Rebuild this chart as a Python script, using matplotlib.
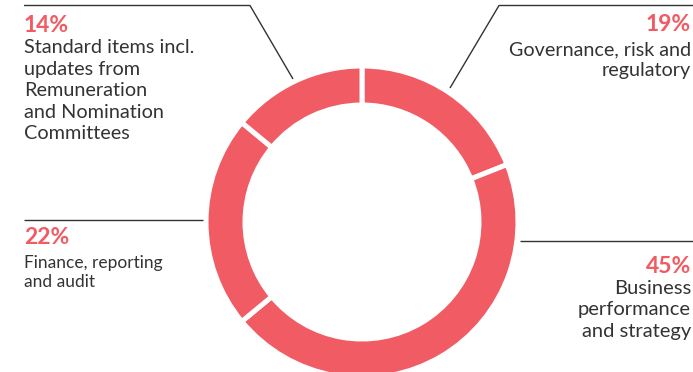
import matplotlib

matplotlib.use("Agg")

import matplotlib.pyplot as plt

# share of board time, clockwise from 12 o'clock
topics = [
    "Governance, risk and\nregulatory",
    "Business\nperformance\nand strategy",
    "Finance, reporting\nand audit",
    "Standard items incl.\nupdates from\nRemuneration\nand Nomination\nCommittees",
]
shares = [19, 45, 22, 14]
pct_labels = ["19%", "45%", "22%", "14%"]

RED = "#F15B63"
INK = "#333333"
W, H = 693, 372


def py(y):
    # pixel row (from top) -> data y
    return H - y


fig = plt.figure(figsize=(W / 100, H / 100), dpi=100)
ax = fig.add_axes([0, 0, 1, 1])

ax.pie(
    shares,
    colors=[RED] * len(shares),
    startangle=90,
    counterclock=False,
    center=(362, py(222)),
    radius=156,
    wedgeprops={"width": 39, "edgecolor": "white", "linewidth": 3.6},
)
ax.set_xlim(0, W)
ax.set_ylim(0, H)
ax.set_aspect("equal")
ax.axis("off")

# leader lines
line_kw = {"color": INK, "lw": 1.0, "solid_capstyle": "butt"}
ax.plot([24, 250, 293], [py(5.5), py(5.5), py(79)], **line_kw)
ax.plot([693, 499, 450], [py(5.5), py(5.5), py(88)], **line_kw)
ax.plot([24, 203], [py(220), py(220)], **line_kw)
ax.plot([520, 693], [py(241), py(241)], **line_kw)

font = "Lato"
pct_kw = {"color": RED, "fontsize": 16.5, "fontweight": "bold", "family": font, "va": "baseline"}
txt_kw = {"color": INK, "family": font, "va": "baseline"}

# governance (top right)
ax.text(691, py(31), pct_labels[0], ha="right", **pct_kw)
for i, s in enumerate(topics[0].split("\n")):
    ax.text(691, py(55 + 21 * i), s, ha="right", fontsize=14.2, **txt_kw)

# business (bottom right)
ax.text(691, py(273), pct_labels[1], ha="right", **pct_kw)
for i, s in enumerate(topics[1].split("\n")):
    ax.text(691, py(294.5 + 21 * i), s, ha="right", fontsize=14.5, **txt_kw)

# finance (left)
ax.text(24, py(244), pct_labels[2], ha="left", **pct_kw)
for i, s in enumerate(topics[2].split("\n")):
    ax.text(24, py(268 + 19 * i), s, ha="left", fontsize=12.5, **txt_kw)

# standard items (top left)
ax.text(24, py(31.5), pct_labels[3], ha="left", **pct_kw)
for i, s in enumerate(topics[3].split("\n")):
    ax.text(24, py(53 + 21.5 * i), s, ha="left", fontsize=14.3, **txt_kw)

fig.savefig("out.png", dpi=100)
plt.close(fig)
